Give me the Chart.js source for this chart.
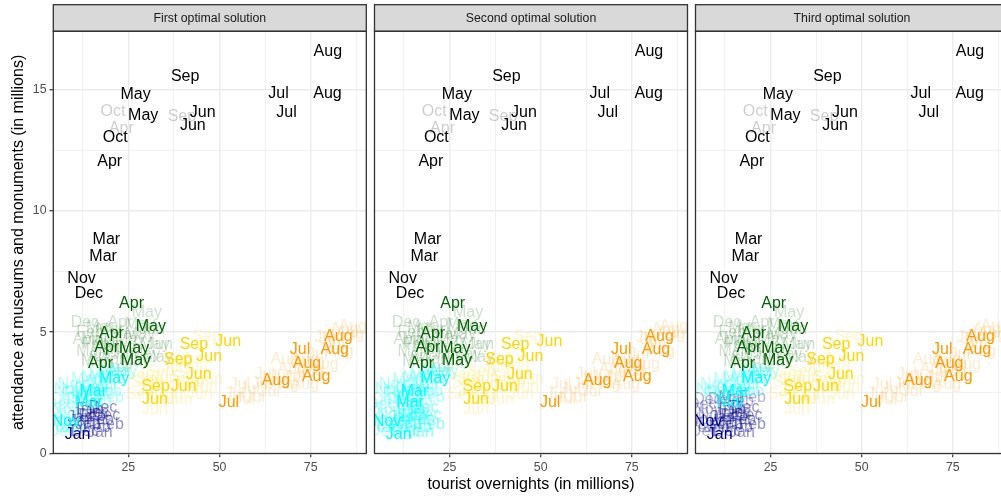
<!DOCTYPE html>
<html>
<head>
<meta charset="utf-8">
<script src="https://cdn.jsdelivr.net/npm/chart.js@4.4.1/dist/chart.umd.min.js"></script>
<style>
html,body{margin:0;padding:0;background:#ffffff;}
body{width:1001px;height:497px;overflow:hidden;position:relative;}
.panel{position:absolute;top:0;height:497px;}
canvas{display:block;}
</style>
</head>
<body>
<div class="panel" style="left:0px;width:370px"><canvas id="c1" width="370" height="497"></canvas></div>
<div class="panel" style="left:370px;width:321px"><canvas id="c2" width="321" height="497"></canvas></div>
<div class="panel" style="left:690px;width:323px"><canvas id="c3" width="323" height="497"></canvas></div>
<script>
// ---------------- data ----------------
const panelTitles = ["First optimal solution", "Second optimal solution", "Third optimal solution"];
const xTitle = "tourist overnights (in millions)";
const yTitle = "attendance at museums and monuments (in millions)";

const xTickValues = [12.5, 25, 37.5, 50, 62.5, 75, 87.5];
const xTickLabels = ["", "25", "", "50", "", "75", ""];
const yTickValues = [0, 2.5, 5, 7.5, 10, 12.5, 15];
const yTickLabels = ["0", "", "5", "", "10", "", "15"];

const month = [
  // black group
  "Aug","Aug","Jul","Jul","Sep","May","May","Jun","Jun","Oct","Apr","Mar","Mar","Nov","Dec","Oct","Sep","Apr",
  // green group
  "Apr","May","Apr","Apr","May","Apr","May",
  "Dec","Apr","May","Feb","Mar","May","Jun","May","Mar","Apr","May","Feb","May","Apr","May","Mar","May","Apr","Apr","Jun",
  // winter group (cyan / navy)
  "May","Mar","Mar","Nov","Jan",
  "Nov","Mar","Feb","Dec","Nov","Mar","Feb","Jan","Dec","Nov","Mar","Feb","May","Nov","Dec",
  "Dec","Feb","Jan","Feb","Dec","Jan","Feb","Dec",
  // gold group
  "Sep","Jun","Sep","Jun","Jun","Sep","Jun","Jun",
  "Sep","Jun","Sep","Jun","Sep","Jun","Sep","Jun","Jun","Jun","Sep","Jun","Sep","Jun","Jun",
  // orange group
  "Jul","Aug","Aug","Aug","Jul","Aug","Aug",
  "Aug","Jul","Jul","Jul","Jul","Aug","Jul","Aug","Jul","Aug","Jul","Aug","Jul","Aug","Jul","Aug","Jul","Aug",
  // further low-weight observations
  "Nov","Dec","Feb","Nov","Mar","Feb","Mar","Mar","Feb","Mar","Dec","Jan","Dec","Feb","Apr","Nov",
  "Jan","Feb","Dec","Jan","Feb",
  "Mar","May","Apr","Apr","Mar","Jun","May","Jun","Apr",
  "Sep","Jun","Sep","Jun","Sep","Jun","Jun","Jun",
  "Jul","Jul","Jul","Aug","Jul","Aug","Jul","Jul","Aug","Jul"
];

const overnights = [
  79.7,79.6,66.2,68.4,40.6,27.0,29.1,45.4,42.7,21.4,19.9,19.0,18.1,12.2,14.2,20.8,39.7,23.1,
  25.9,31.2,20.4,19.1,26.6,17.4,27.1,
  13.1,22.7,30.1,14.5,15.9,28.2,31.5,32.3,14.5,17.2,29.6,15.9,25.5,21.4,26.8,20.0,33.1,22.2,18.6,24.1,
  21.1,15.4,14.2,7.9,11.1,
  9.6,15.9,17.2,11.8,7.7,18.6,20.0,13.1,9.0,6.3,21.4,14.0,23.3,11.2,6.3,
  15.9,17.2,14.0,14.5,18.1,11.8,16.4,13.1,
  43.0,52.4,38.7,47.2,44.3,32.5,40.2,32.3,
  46.5,30.9,33.7,37.8,40.5,43.3,28.2,36.4,44.6,32.3,29.6,40.5,38.6,35.0,47.4,
  52.6,65.5,74.0,76.5,72.1,81.6,82.6,
  86.5,54.2,58.3,61.6,66.5,69.8,72.0,74.7,76.9,78.8,80.2,82.9,78.8,85.7,56.9,73.4,63.8,67.9,
  5.7,7.7,10.4,9.0,14.5,15.9,13.1,17.8,19.4,20.5,6.8,10.4,14.0,16.7,22.7,8.5,
  12.3,15.1,18.9,17.2,20.0,
  17.2,24.1,19.4,13.1,15.9,24.9,28.2,33.7,20.5,
  28.2,35.0,41.9,46.0,33.7,39.1,30.9,43.3,
  55.6,59.7,63.8,67.9,70.6,73.4,76.1,81.6,84.3,62.4
];

const attendance = [
  16.58,14.84,14.84,14.04,15.55,14.81,13.94,14.05,13.52,13.02,12.02,8.80,8.10,7.21,6.60,14.08,13.87,13.38,
  6.18,5.23,4.93,4.35,4.34,3.70,3.82,
  5.38,5.38,5.79,4.97,4.68,4.89,5.09,4.48,4.19,3.98,4.07,4.48,4.68,4.27,3.78,5.09,3.94,3.53,4.56,4.07,
  3.07,2.57,2.08,1.31,0.79,
  2.83,3.12,2.54,2.21,1.80,2.83,2.30,1.60,1.19,1.39,3.37,2.01,3.37,2.54,2.01,
  1.68,1.39,1.19,1.80,1.88,1.47,1.06,0.90,
  4.49,4.60,3.86,3.98,3.27,2.74,2.74,2.21,
  4.81,3.04,3.37,3.53,3.12,3.45,2.42,2.42,2.42,1.80,2.92,2.71,3.78,2.83,3.04,
  2.10,3.01,3.72,3.17,4.30,4.27,4.82,
  5.23,2.42,2.63,2.83,3.12,3.45,3.78,3.37,4.07,3.65,4.68,4.19,4.77,4.89,2.21,2.83,3.02,3.85,
  1.06,2.21,2.42,1.60,2.30,2.71,3.04,3.25,2.55,3.04,0.90,1.06,2.63,2.13,3.37,2.63,
  1.31,1.51,1.56,0.86,1.19,
  5.18,4.89,4.48,4.68,3.78,4.35,5.30,4.48,3.86,
  3.25,3.12,2.92,2.71,2.21,2.21,2.55,3.86,
  2.83,2.30,2.55,2.83,3.12,3.86,3.53,4.48,5.09,3.25
];

// membership weight (drawn as opacity)
const weight = [
  1,1,1,1,1,1,1,1,1,1,1,1,1,1,1,0.2,0.2,0.2,
  1,1,1,1,1,1,1,
  0.2,0.2,0.2,0.2,0.2,0.2,0.2,0.2,0.2,0.2,0.2,0.2,0.2,0.2,0.2,0.2,0.2,0.2,0.2,0.2,
  1,1,1,1,1,
  0.3,0.3,0.3,0.3,0.3,0.3,0.3,0.3,0.3,0.3,0.3,0.3,0.3,0.3,0.3,
  0.45,0.45,0.45,0.45,0.45,0.45,0.45,0.45,
  1,1,1,1,1,1,1,1,
  0.2,0.2,0.2,0.2,0.2,0.2,0.2,0.2,0.2,0.2,0.2,0.2,0.2,0.2,0.2,
  1,1,1,1,1,1,1,
  0.2,0.2,0.2,0.2,0.2,0.2,0.2,0.2,0.2,0.2,0.2,0.2,0.2,0.2,0.2,0.2,0.2,0.2,
  0.3,0.3,0.3,0.3,0.3,0.3,0.3,0.3,0.3,0.3,0.3,0.3,0.3,0.3,0.3,0.3,
  0.45,0.45,0.45,0.45,0.45,
  0.2,0.2,0.2,0.2,0.2,0.2,0.2,0.2,0.2,
  0.2,0.2,0.2,0.2,0.2,0.2,0.2,0.2,
  0.2,0.2,0.2,0.2,0.2,0.2,0.2,0.2,0.2,0.2
];

// cluster of each observation in each solution (0 black, 1 green, 2 cyan, 3 navy, 4 gold, 5 orange)
const solution1 = [
  0,0,0,0,0,0,0,0,0,0,0,0,0,0,0,0,0,0,
  1,1,1,1,1,1,1,
  1,1,1,1,1,1,1,1,1,1,1,1,1,1,1,1,1,1,1,1,
  2,2,2,2,3,
  2,2,2,2,2,2,2,3,2,2,2,2,2,2,2,
  3,3,3,3,3,3,3,3,
  4,4,4,4,4,4,4,4,
  4,4,4,4,4,4,4,4,4,4,4,4,4,4,4,
  5,5,5,5,5,5,5,
  5,5,5,5,5,5,5,5,5,5,5,5,5,5,5,5,5,5,
  2,2,2,2,2,2,2,2,2,2,2,2,2,2,2,2,
  3,3,3,3,3,
  1,1,1,1,1,1,1,1,1,
  4,4,4,4,4,4,4,4,
  5,5,5,5,5,5,5,5,5,5
];
const solution2 = [
  0,0,0,0,0,0,0,0,0,0,0,0,0,0,0,0,0,0,
  1,1,1,1,1,1,1,
  1,1,1,1,1,1,1,1,1,1,1,1,1,1,1,1,1,1,1,1,
  2,2,2,2,2,
  2,2,2,2,2,2,2,2,2,2,2,2,2,2,2,
  2,2,2,2,2,2,2,2,
  4,4,4,4,4,4,4,4,
  4,4,4,4,4,4,4,4,4,4,4,4,4,4,4,
  5,5,5,5,5,5,5,
  5,5,5,5,5,5,5,5,5,5,5,5,5,5,5,5,5,5,
  2,2,2,2,2,2,2,2,2,2,2,2,2,2,2,2,
  2,2,2,2,2,
  1,1,1,1,1,1,1,1,1,
  4,4,4,4,4,4,4,4,
  5,5,5,5,5,5,5,5,5,5
];
const solution3 = [
  0,0,0,0,0,0,0,0,0,0,0,0,0,0,0,0,0,0,
  1,1,1,1,1,1,1,
  1,1,1,1,1,1,1,1,1,1,1,1,1,1,1,1,1,1,1,1,
  2,2,2,3,3,
  2,2,2,3,3,2,3,3,3,3,2,3,2,2,3,
  3,3,3,3,3,3,3,3,
  4,4,4,4,4,4,4,4,
  4,4,4,4,4,4,4,4,4,4,4,4,4,4,4,
  5,5,5,5,5,5,5,
  5,5,5,5,5,5,5,5,5,5,5,5,5,5,5,5,5,5,
  3,3,2,3,3,2,2,2,2,2,3,3,2,3,2,2,
  3,3,3,3,3,
  1,1,1,1,1,1,1,1,1,
  4,4,4,4,4,4,4,4,
  5,5,5,5,5,5,5,5,5,5
];

const clusterNames = ["cluster 1","cluster 2","cluster 3","cluster 4","cluster 5","cluster 6"];
const clusterColors = ["#000000","#006400","#00FFFF","#00008B","#FFD700","#FF9900"];

// ---------------- drawing ----------------
const FONT = '"Liberation Sans", Arial, Helvetica, sans-serif';
Chart.defaults.font.family = FONT;

const monthLabels = {
  id: "monthLabels",
  afterDatasetsDraw(chart) {
    const {ctx, chartArea: a} = chart;
    const items = [];
    chart.data.datasets.forEach((ds, i) => {
      const meta = chart.getDatasetMeta(i);
      meta.data.forEach((el, j) => {
        items.push({x: el.x, y: el.y, t: ds.data[j].m, w: ds.data[j].w, c: ds.textColor});
      });
    });
    items.sort((p, q) => p.w - q.w);
    ctx.save();
    ctx.beginPath();
    ctx.rect(a.left, a.top, a.right - a.left, a.bottom - a.top);
    ctx.clip();
    ctx.font = "16px " + FONT;
    ctx.textAlign = "center";
    ctx.textBaseline = "middle";
    items.forEach(p => {
      ctx.globalAlpha = p.w;
      ctx.fillStyle = p.c;
      ctx.fillText(p.t, p.x, p.y);
    });
    ctx.restore();
  }
};

const facetFrame = {
  id: "facetFrame",
  afterDraw(chart, args, opts) {
    const {ctx, chartArea: a} = chart;
    const stripTop = 4.7;
    ctx.save();
    ctx.fillStyle = "#D9D9D9";
    ctx.fillRect(a.left, stripTop, a.right - a.left, a.top - stripTop);
    ctx.strokeStyle = "#333333";
    ctx.lineWidth = 1.3;
    ctx.strokeRect(a.left, stripTop, a.right - a.left, a.top - stripTop);
    ctx.strokeRect(a.left, a.top, a.right - a.left, a.bottom - a.top);
    ctx.fillStyle = "#1A1A1A";
    ctx.font = "12.3px " + FONT;
    ctx.textAlign = "center";
    ctx.textBaseline = "middle";
    ctx.fillText(opts.text, (a.left + a.right) / 2, (stripTop + a.top) / 2 + 0.5);
    ctx.restore();
  }
};

function makePanel(canvasId, solution, panelIndex, layout) {
  const datasets = clusterColors.map((col, k) => ({
    label: clusterNames[k],
    textColor: col,
    data: month.map((m, i) => ({x: overnights[i], y: attendance[i], m: m, w: weight[i], k: solution[i]}))
               .filter(p => p.k === k),
    pointRadius: 0,
    pointHoverRadius: 0,
    showLine: false
  }));
  const first = panelIndex === 0;
  const middle = panelIndex === 1;
  return new Chart(document.getElementById(canvasId), {
    type: "scatter",
    data: {datasets},
    plugins: [monthLabels, facetFrame],
    options: {
      responsive: false,
      animation: false,
      events: [],
      layout: {padding: {top: 31.3, right: layout.padRight, bottom: 0, left: 0}},
      plugins: {
        legend: {display: false},
        tooltip: {enabled: false},
        facetFrame: {text: panelTitles[panelIndex]}
      },
      scales: {
        x: {
          type: "linear",
          min: 4.45, max: 90.25,
          afterBuildTicks: s => { s.ticks = xTickValues.map(v => ({value: v})); },
          afterFit: s => { s.height = 43.5; },
          ticks: {
            autoSkip: false, maxRotation: 0, padding: 3,
            color: "#4D4D4D", font: {size: 12.3},
            callback: (v) => xTickLabels[xTickValues.indexOf(v)]
          },
          grid: {
            color: "#EBEBEB",
            lineWidth: c => (c.tick && c.tick.value % 25 === 0) ? 1.4 : 0.7,
            tickLength: 3.8,
            tickWidth: 1.2,
            tickColor: c => (c.tick && c.tick.value % 25 === 0) ? "#333333" : "rgba(0,0,0,0)"
          },
          border: {display: false},
          title: {
            display: middle, text: xTitle, color: "#000000",
            font: {size: 16}, padding: {top: 0, bottom: 2.9}
          }
        },
        y: {
          type: "linear",
          min: 0, max: 17.4,
          afterBuildTicks: s => { s.ticks = yTickValues.map(v => ({value: v})); },
          afterFit: s => { s.width = layout.yWidth; },
          ticks: {
            display: first, padding: 3,
            color: "#4D4D4D", font: {size: 12.3},
            callback: (v) => yTickLabels[yTickValues.indexOf(v)]
          },
          grid: {
            color: "#EBEBEB",
            lineWidth: c => (c.tick && c.tick.value % 5 === 0) ? 1.4 : 0.7,
            drawTicks: first,
            tickLength: 3.8,
            tickWidth: 1.2,
            tickColor: c => (c.tick && c.tick.value % 5 === 0) ? "#333333" : "rgba(0,0,0,0)"
          },
          border: {display: false},
          title: {
            display: first, text: yTitle, color: "#000000",
            font: {size: 16}, padding: {top: 9, bottom: 0}
          }
        }
      }
    }
  });
}

makePanel("c1", solution1, 0, {yWidth: 53.3, padRight: 3.7});
makePanel("c2", solution2, 1, {yWidth: 4.5, padRight: 3.5});
makePanel("c3", solution3, 2, {yWidth: 5.5, padRight: 4.5});
</script>
</body>
</html>
